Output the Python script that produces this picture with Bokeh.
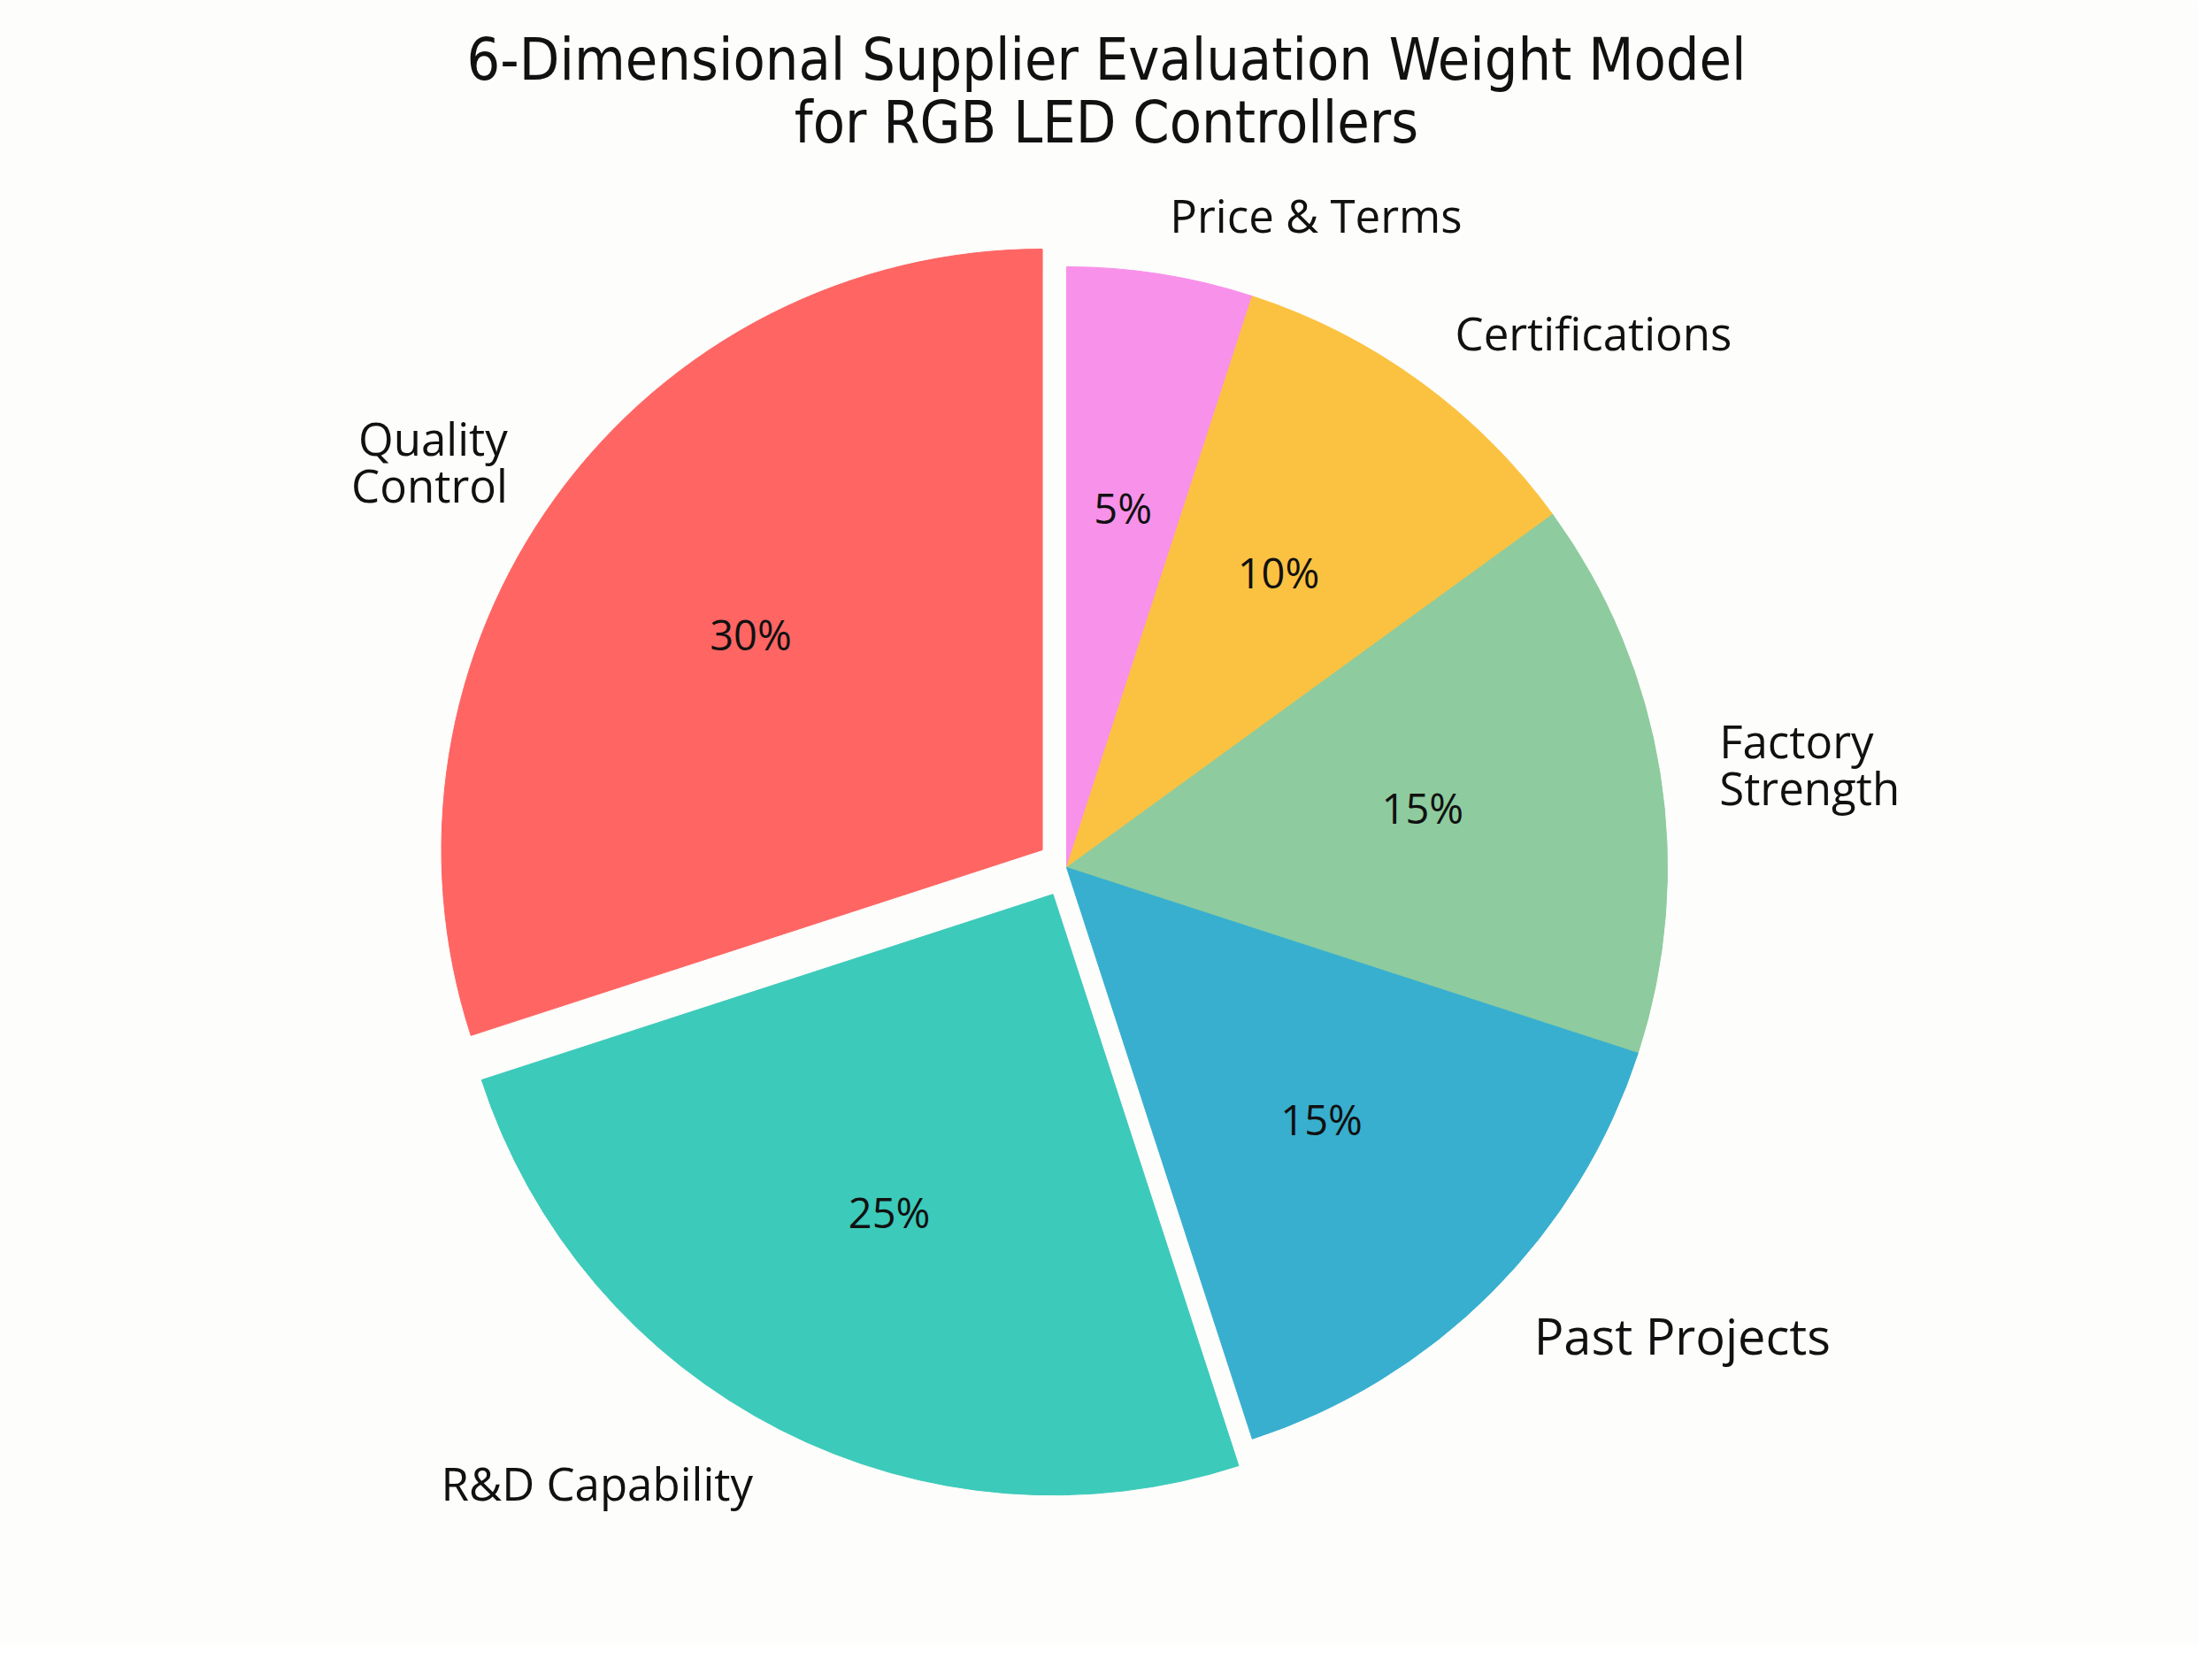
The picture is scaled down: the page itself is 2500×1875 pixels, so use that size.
import math
from bokeh.plotting import figure
from bokeh.models import Range1d
from bokeh.embed import file_html
from bokeh.resources import INLINE
from bokeh.core.properties import value

# ---- data ----
categories = ["Price & Terms", "Certifications", "Factory\nStrength",
              "Past Projects", "R&D Capability", "Quality\nControl"]
weights = [5, 10, 15, 15, 25, 30]
pct_labels = ["5%", "10%", "15%", "15%", "25%", "30%"]
title_lines = ["6-Dimensional Supplier Evaluation Weight Model",
               "for RGB LED Controllers"]

# ---- style ----
colors = ["#F891EA", "#FBC241", "#8ECB9E", "#38AFCF", "#3CCABA", "#FE6563"]
explode = [0, 0, 0, 0, 0.05, 0.05]
label_sizes = ["51px", "51px", "51px", "56px", "51px", "51px"]
BG = "#FDFDFB"
FONT = "Open Sans"

W, H = 2484, 1859
p = figure(width=W, height=H, x_range=Range1d(0, W), y_range=Range1d(-H, 0),
           output_backend="svg", toolbar_location=None,
           x_axis_type=None, y_axis_type=None, min_border=0,
           background_fill_color=BG, border_fill_color=BG, outline_line_color=None)
p.grid.visible = False

CX, CY, R = 1205, -980, 679
total = float(sum(weights))
cum = 0.0
for i, w in enumerate(weights):
    a_end = math.radians(90 - cum / total * 360)
    cum += w
    a_start = math.radians(90 - cum / total * 360)
    mid = 0.5 * (a_start + a_end)
    off = explode[i] * R
    cx = CX + off * math.cos(mid)
    cy = CY + off * math.sin(mid)
    p.wedge(x=[cx], y=[cy], radius=R, start_angle=a_start, end_angle=a_end,
            direction="anticlock", fill_color=colors[i], line_color=colors[i],
            line_width=1)
    # percentage label
    p.text(x=[cx + 0.6 * R * math.cos(mid)], y=[cy + 0.6 * R * math.sin(mid)],
           text=[pct_labels[i]], text_align="center", text_baseline="middle",
           y_offset=-4,
           text_font=value(FONT), text_font_size="47px", text_color="#111111")
    # category label
    lx = cx + 1.1 * R * math.cos(mid)
    ly = cy + 1.1 * R * math.sin(mid)
    p.text(x=[lx], y=[ly], text=[categories[i]],
           text_align="left" if math.cos(mid) > 0 else "right",
           text_baseline="middle", text_line_height=0.76,
           text_font=value(FONT), text_font_size=label_sizes[i], text_color="#111111")

# title
p.text(x=[1250, 1250], y=[-67, -138], text=title_lines, text_align="center",
       text_baseline="middle", text_font=value("DejaVu Sans Condensed"),
       text_font_size="66px", text_color="#111111")

open("out.html", "w").write(file_html(p, INLINE))
